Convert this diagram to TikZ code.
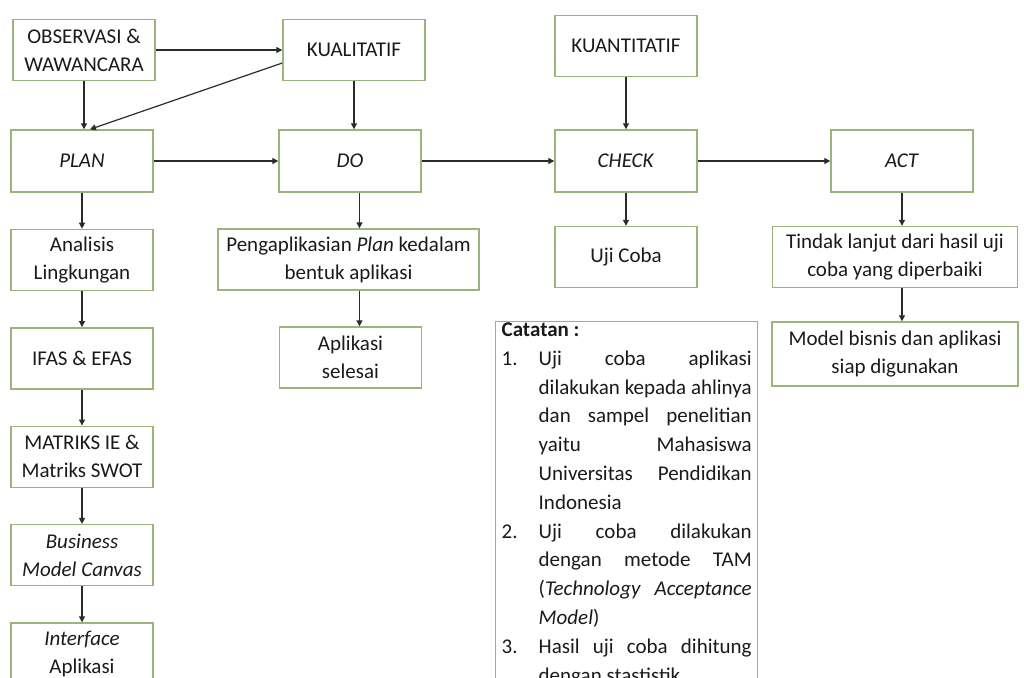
\documentclass[tikz,border=0pt]{standalone}
\usepackage{fontspec}
\setmainfont{Carlito}
\usepackage{tikz}
\usetikzlibrary{arrows.meta, positioning}
\definecolor{boxc}{HTML}{9DB37C}
\definecolor{arrc}{HTML}{2B2B2B}
\definecolor{txtc}{HTML}{1A1A1A}
\newcommand{\catitem}[2]{\par\hangindent=18.5pt\hangafter=1\noindent\makebox[18.5pt][l]{#1}#2\par}

\begin{document}
\begin{tikzpicture}[
  x=0.5pt, y=-0.5pt,
  node distance=18pt,
  box/.style={draw=boxc, line width=0.7pt, minimum width=71pt,
              minimum height=30.5pt, align=center, inner sep=1.5pt,
              text=txtc, font=\fontsize{10.5pt}{14pt}\selectfont},
  note/.style={draw=boxc, line width=0.7pt, anchor=north west,
               text width=125pt, inner xsep=3pt, inner ysep=0.5pt,
               align=justify, text=txtc,
               font=\fontsize{10.5pt}{14.4pt}\selectfont},
  arr/.style={-{Triangle[length=3pt,width=3pt]}, line width=0.6pt, draw=arrc}
]
\useasboundingbox (0,0) rectangle (1024,677);
\clip (0,0) rectangle (1024,677);

% top row
\node[box] (obs)  at (84,50)  {OBSERVASI \&\\WAWANCARA};
\node[box] (kual) at (354,50) {KUALITATIF};
\node[box] (kuan) at (626,46) {KUANTITATIF};

% PDCA row
\node[box, minimum height=31pt] (plan)  at (82,161)  {\textit{PLAN}};
\node[box, minimum height=31pt] (do)    at (350,161) {\textit{DO}};
\node[box, minimum height=31pt] (check) at (626,161) {\textit{CHECK}};
\node[box, minimum height=31pt] (act)   at (902,161) {\textit{ACT}};

% plan column
\node[box, below=of plan]     (analisis) {Analisis\\Lingkungan};
\node[box, below=of analisis] (ifas)     {IFAS \& EFAS};
\node[box, below=of ifas]     (matriks)  {MATRIKS IE \&\\Matriks SWOT};
\node[box, below=of matriks]  (bmc)      {\textit{Business}\\\textit{Model Canvas}};
\node[box, below=of bmc]      (iface)    {\textit{Interface}\\Aplikasi};

% do / check / act columns
\node[box, minimum width=130.5pt] (peng) at (348.5,259.5)
    {Pengaplikasian \textit{Plan} kedalam\\bentuk aplikasi};
\node[box] (selesai) at (350.5,357.5) {Aplikasi\\selesai};
\node[box] (uji) at (626,257) {Uji Coba};
\node[box, minimum width=122.5pt] (tindak) at (895,257)
    {Tindak lanjut dari hasil uji\\coba yang diperbaiki};
\node[box, minimum width=123pt, minimum height=32pt] (model) at (895,354)
    {Model bisnis dan aplikasi\\siap digunakan};

% Catatan
\node[note] (catatan) at (495,321) {%
  \textbf{Catatan :}
  \catitem{1.}{Uji coba aplikasi\linebreak dilakukan kepada ahlinya\linebreak
    dan sampel penelitian\linebreak yaitu Mahasiswa\linebreak
    Universitas Pendidikan\linebreak Indonesia}
  \catitem{2.}{Uji coba dilakukan\linebreak dengan metode TAM\linebreak
    (\textit{Technology Acceptance}\linebreak \textit{Model})}
  \catitem{3.}{Hasil uji coba dihitung\linebreak dengan stastistik}};

\draw[arr] (obs) -- (kual);
\draw[arr] (obs) -- (obs |- plan.north);
\draw[arr] ([yshift=-6.5pt]kual.west) -- ([xshift=4pt]plan.north);
\draw[arr] (kual) -- (kual |- do.north);
\draw[arr] (kuan) -- (check);

\draw[arr] (plan)  -- (do);
\draw[arr] (do)    -- (check);
\draw[arr] (check) -- (act);

\draw[arr] (plan)     -- (analisis);
\draw[arr] (analisis) -- (ifas);
\draw[arr] (ifas)     -- (matriks);
\draw[arr] (matriks)  -- (bmc);
\draw[arr] (bmc)      -- (iface);

\draw[arr] ([xshift=5.5pt]peng.north |- do.south) -- ([xshift=5.5pt]peng.north);
\draw[arr] ([xshift=5.5pt]peng.south) -- ([xshift=5.5pt]peng.south |- selesai.north);
\draw[arr] (check) -- (uji);
\draw[arr] (act.south) -- (act.south |- tindak.north);
\draw[arr] (tindak.south -| act.south) -- (act.south |- model.north);
\end{tikzpicture}
\end{document}
